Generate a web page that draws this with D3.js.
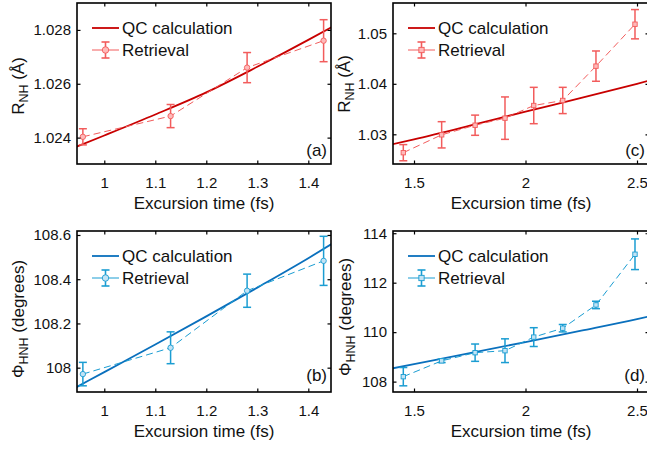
<!DOCTYPE html>
<html>
<head>
<meta charset="utf-8">
<script src="https://cdn.jsdelivr.net/npm/d3@7"></script>
<style>
  body { margin: 0; background: #fff; }
  text { font-family: "Liberation Sans", Arial, Helvetica, sans-serif; fill: #111; }
</style>
</head>
<body>
<script>
// ---- data ----
// excursion times of the retrieved points
const timeShort = [0.958, 1.13, 1.28, 1.43];
const timeLong = [1.452, 1.624, 1.774, 1.908, 2.037, 2.167, 2.316, 2.491];

// (a) R_NH, short trajectories
const rNHShort = [1.02403, 1.0248, 1.0266, 1.0276];
const rNHShortErr = [0.0003, 0.00043, 0.00056, 0.00078];
// (b) HNH angle, short trajectories
const phiShort = [107.971, 108.09, 108.348, 108.483];
const phiShortErr = [0.053, 0.072, 0.075, 0.111];
// (c) R_NH, long trajectories
const rNHLong = [1.02636, 1.0299, 1.0318, 1.0332, 1.0357, 1.0367, 1.0435, 1.0518];
const rNHLongErr = [0.0016, 0.0026, 0.002, 0.0042, 0.0036, 0.0026, 0.003, 0.0029];
// (d) HNH angle, long trajectories
const phiLong = [108.20, 108.84, 109.17, 109.25, 109.80, 110.16, 111.10, 113.15];
const phiLongErr = [0.37, 0.07, 0.35, 0.48, 0.38, 0.15, 0.15, 0.62];

// QC calculation curves (sampled)
const qcTimeShort = [0.94, 1.0, 1.1, 1.2, 1.3, 1.4, 1.45];
const qcRShort = [1.02362, 1.02408, 1.02486, 1.02568, 1.02663, 1.02763, 1.02815];
const qcPhiShort = [107.905, 107.98, 108.105, 108.232, 108.362, 108.495, 108.565];
const qcTimeLong = [1.40, 1.5, 1.75, 2.0, 2.25, 2.5, 2.56];
const qcRLong = [1.0280, 1.0290, 1.0317, 1.0345, 1.0372, 1.0400, 1.0407];
const qcPhiLong = [108.53, 108.71, 109.15, 109.60, 110.06, 110.53, 110.65];

// tick labels
const xTicksShort = [1, 1.1, 1.2, 1.3, 1.4];
const xTicksLong = [1.5, 2, 2.5];
const yTicksA = [1.024, 1.026, 1.028];
const yTicksB = [108, 108.2, 108.4, 108.6];
const yTicksC = [1.03, 1.04, 1.05];
const yTicksD = [108, 110, 112, 114];

const legendNames = ["QC calculation", "Retrieval"];
const xTitle = "Excursion time (fs)";

const red = { qc: "#c80000", ret: "#f25c5c", fill: "#ffb9b9" };
const blue = { qc: "#0a70bd", ret: "#1b9dd2", fill: "#c2e3f5" };

const svg = d3.select("body").append("svg")
  .attr("width", 647).attr("height", 449);

let clipId = 0;

function drawPanel(p) {
  const x = d3.scaleLinear().domain(p.xDomain).range([p.left, p.right]);
  const y = d3.scaleLinear().domain(p.yDomain).range([p.bottom, p.top]);
  const g = svg.append("g");
  const id = "clip" + (clipId++);
  g.append("clipPath").attr("id", id).append("rect")
    .attr("x", p.left).attr("y", p.top)
    .attr("width", p.right - p.left).attr("height", p.bottom - p.top);

  const plot = g.append("g").attr("clip-path", "url(#" + id + ")");

  // QC calculation
  const qc = p.qcX.map((d, i) => [d, p.qcY[i]]);
  plot.append("path")
    .datum(qc)
    .attr("fill", "none")
    .attr("stroke", p.col.qc)
    .attr("stroke-width", 1.8)
    .attr("d", d3.line().x(d => x(d[0])).y(d => y(d[1])).curve(d3.curveMonotoneX));

  // retrieval
  const pts = p.rx.map((d, i) => ({ x: d, y: p.ry[i], e: p.err[i] }));
  plot.append("path")
    .datum(pts)
    .attr("fill", "none")
    .attr("stroke", p.col.ret)
    .attr("stroke-width", 1)
    .attr("stroke-dasharray", "7,4")
    .attr("d", d3.line().x(d => x(d.x)).y(d => y(d.y)));

  const eb = plot.selectAll("g.eb").data(pts).enter().append("g")
    .attr("stroke", p.col.ret).attr("stroke-width", 1.5);
  eb.append("line")
    .attr("x1", d => x(d.x)).attr("x2", d => x(d.x))
    .attr("y1", d => y(d.y - d.e)).attr("y2", d => y(d.y + d.e));
  eb.append("line")
    .attr("x1", d => x(d.x) - 4).attr("x2", d => x(d.x) + 4)
    .attr("y1", d => y(d.y + d.e)).attr("y2", d => y(d.y + d.e));
  eb.append("line")
    .attr("x1", d => x(d.x) - 4).attr("x2", d => x(d.x) + 4)
    .attr("y1", d => y(d.y - d.e)).attr("y2", d => y(d.y - d.e));

  drawMarkers(plot, pts.map(d => [x(d.x), y(d.y)]), p);

  // frame + ticks (inward, mirrored)
  g.append("g").attr("transform", `translate(0,${p.bottom})`)
    .call(d3.axisBottom(x).tickValues(p.xTicks).tickSize(-3.5).tickPadding(13.5)
      .tickFormat(d3.format("~f")))
    .call(styleAxis);
  g.append("g").attr("transform", `translate(0,${p.top})`)
    .call(d3.axisTop(x).tickValues(p.xTicks).tickSize(-3.5).tickFormat(""))
    .call(styleAxis);
  g.append("g").attr("transform", `translate(${p.left},0)`)
    .call(d3.axisLeft(y).tickValues(p.yTicks).tickSize(-3.5).tickPadding(6)
      .tickFormat(d3.format(p.yFmt)))
    .call(styleAxis);
  g.append("g").attr("transform", `translate(${p.right},0)`)
    .call(d3.axisRight(y).tickValues(p.yTicks).tickSize(-3.5).tickFormat(""))
    .call(styleAxis);

  g.append("rect")
    .attr("x", p.left).attr("y", p.top)
    .attr("width", p.right - p.left).attr("height", p.bottom - p.top)
    .attr("fill", "none").attr("stroke", "#000").attr("stroke-width", 1.6);

  // legend
  const lx = p.left + 15, ly1 = p.top + 25, ly2 = p.top + 47;
  g.append("line").attr("x1", lx).attr("x2", lx + 27).attr("y1", ly1).attr("y2", ly1)
    .attr("stroke", p.col.qc).attr("stroke-width", 1.8);
  g.append("line").attr("x1", lx).attr("x2", lx + 27).attr("y1", ly2).attr("y2", ly2)
    .attr("stroke", p.col.ret).attr("stroke-width", 1);
  const lm = lx + 13.5;
  const leb = g.append("g").attr("stroke", p.col.ret).attr("stroke-width", 1.6);
  leb.append("line").attr("x1", lm).attr("x2", lm).attr("y1", ly2 - 8).attr("y2", ly2 + 8);
  leb.append("line").attr("x1", lm - 4).attr("x2", lm + 4).attr("y1", ly2 - 8).attr("y2", ly2 - 8);
  leb.append("line").attr("x1", lm - 4).attr("x2", lm + 4).attr("y1", ly2 + 8).attr("y2", ly2 + 8);
  drawMarkers(g, [[lm, ly2]], p, 1.2);
  g.selectAll("text.leg").data(legendNames).enter().append("text")
    .attr("class", "leg")
    .attr("x", lx + 30).attr("y", (d, i) => (i ? ly2 : ly1) + 6)
    .attr("font-size", 17).text(d => d);

  // panel letter
  g.append("text")
    .attr("x", p.right - 4).attr("y", p.bottom - p.letterUp)
    .attr("text-anchor", "end").attr("font-size", 17).text(p.letter);

  // axis titles
  g.append("text")
    .attr("x", (p.left + p.right) / 2)
    .attr("y", p.bottom + 45)
    .attr("text-anchor", "middle").attr("font-size", 17).text(xTitle);

  const yl = g.append("text")
    .attr("transform", `translate(${p.ylabX},${p.ylabY}) rotate(-90)`)
    .attr("text-anchor", "middle").attr("font-size", 17);
  yl.append("tspan").text(p.ylab[0]);
  yl.append("tspan").attr("font-size", 12.5).attr("dy", 4).text(p.ylab[1]);
  yl.append("tspan").attr("dy", -4).text(" " + p.ylab[2]);
}

function drawMarkers(sel, coords, p, k = 1) {
  if (p.marker === "circle") {
    sel.selectAll(null).data(coords).enter().append("circle")
      .attr("cx", d => d[0]).attr("cy", d => d[1]).attr("r", 2.7 * k)
      .attr("fill", p.col.fill).attr("stroke", p.col.ret).attr("stroke-width", 0.9);
  } else {
    const s = 4.4 * k;
    sel.selectAll(null).data(coords).enter().append("rect")
      .attr("x", d => d[0] - s / 2).attr("y", d => d[1] - s / 2)
      .attr("width", s).attr("height", s)
      .attr("fill", p.col.fill).attr("stroke", p.col.ret).attr("stroke-width", 0.9);
  }
}

function styleAxis(a) {
  a.select(".domain").remove();
  a.selectAll(".tick line").attr("stroke", "#000").attr("stroke-width", 1.2);
  a.selectAll(".tick text").attr("font-size", 15).attr("fill", "#111")
    .attr("font-family", "'Liberation Sans', Arial, sans-serif");
}

drawPanel({
  left: 77, right: 331, top: 3, bottom: 164,
  xDomain: [0.9465, 1.4445], yDomain: [1.02302, 1.0290],
  xTicks: xTicksShort, yTicks: yTicksA, yFmt: ".3f",
  qcX: qcTimeShort, qcY: qcRShort, rx: timeShort, ry: rNHShort, err: rNHShortErr,
  col: red, marker: "circle", letter: "(a)", letterUp: 8,
  ylab: ["R", "NH", "(Å)"], ylabX: 23.5, ylabY: 86
});
drawPanel({
  left: 77, right: 331, top: 231, bottom: 392,
  xDomain: [0.9465, 1.4445], yDomain: [107.89, 108.618],
  xTicks: xTicksShort, yTicks: yTicksB, yFmt: "~f",
  qcX: qcTimeShort, qcY: qcPhiShort, rx: timeShort, ry: phiShort, err: phiShortErr,
  col: blue, marker: "circle", letter: "(b)", letterUp: 11,
  ylab: ["Φ", "HNH", "(degrees)"], ylabX: 24, ylabY: 319
});
drawPanel({
  left: 393, right: 649, top: 3, bottom: 164,
  xDomain: [1.4058, 2.5538], yDomain: [1.02412, 1.0560],
  xTicks: xTicksLong, yTicks: yTicksC, yFmt: ".2f",
  qcX: qcTimeLong, qcY: qcRLong, rx: timeLong, ry: rNHLong, err: rNHLongErr,
  col: red, marker: "square", letter: "(c)", letterUp: 8,
  ylab: ["R", "NH", "(Å)"], ylabX: 349.5, ylabY: 84
});
drawPanel({
  left: 393, right: 649, top: 231, bottom: 392,
  xDomain: [1.4058, 2.5538], yDomain: [107.58, 114.09],
  xTicks: xTicksLong, yTicks: yTicksD, yFmt: "~f",
  qcX: qcTimeLong, qcY: qcPhiLong, rx: timeLong, ry: phiLong, err: phiLongErr,
  col: blue, marker: "square", letter: "(d)", letterUp: 11,
  ylab: ["Φ", "HNH", "(degrees)"], ylabX: 351, ylabY: 317
});
</script>
</body>
</html>
